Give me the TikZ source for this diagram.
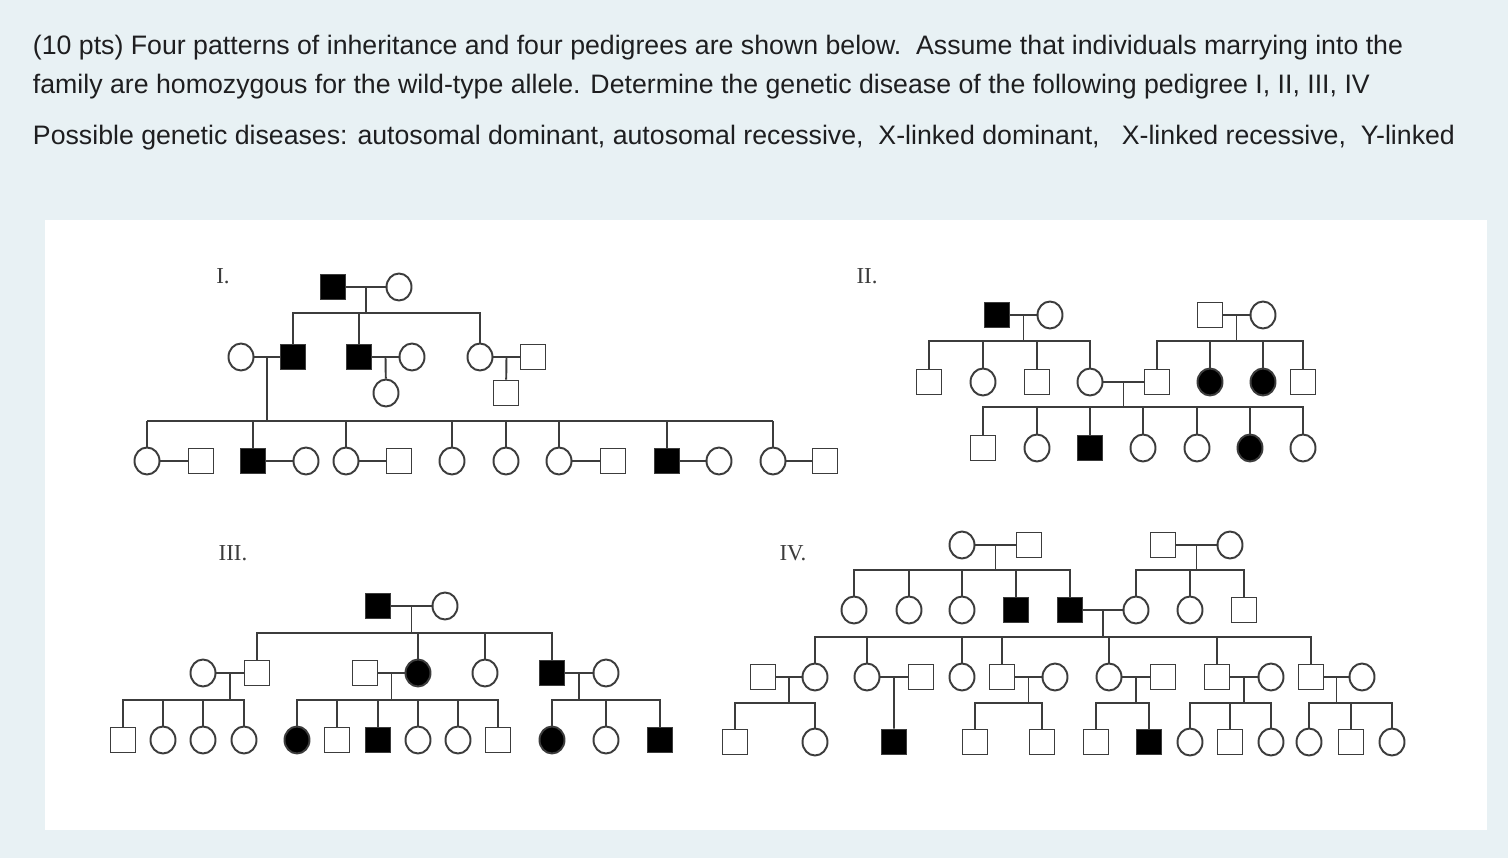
\documentclass[tikz,border=0pt]{standalone}
\usepackage{fontspec}
\setmainfont{Liberation Sans}
\newfontfamily\numfont{Liberation Serif}
\usetikzlibrary{calc,shapes.geometric}
\definecolor{bg}{HTML}{E8F1F4}
\definecolor{lc}{HTML}{3C3C3C}
\definecolor{txt}{HTML}{1E1E20}
\tikzset{
  ind/.style={draw=lc, line width=1.1pt, inner sep=0pt},
  male/.style={ind, rectangle, minimum size=0.5cm},
  female/.style={ind, ellipse, minimum width=0.5cm, minimum height=0.54cm},
  aff/.style={fill=black},
  head/.style={anchor=west, inner sep=0pt, text=txt, font=\fontsize{15.2}{18}\selectfont},
  roman/.style={text=lc, font=\numfont\fontsize{13}{15}\selectfont}
}
% couple: line and midpoint
\newcommand\couple[3]{\draw (#1) -- (#2); \coordinate (#3) at ($(#1)!.5!(#2)$);}
% children hanging from a sibship line
\newcommand\kids[3]{%
  \draw (#1) -- (#1 |- #2);
  \foreach \k in {#3} \draw (#1 |- #2) -- (\k |- #2) -- (\k);}
\begin{document}
\begin{tikzpicture}[x=0.02cm, y=-0.02cm, line width=1.1pt, draw=lc]
\fill[bg] (0,0) rectangle (1508,858);
\useasboundingbox (0,0) rectangle (1508,858);
\fill[white] (45,220) rectangle (1487,830);

% question text
\node[head] (q1) at (32,48) {(10 pts) Four patterns of inheritance and four pedigrees are shown below.\ \ Assume that individuals marrying into the};
\node[head] (q2) at (32,87) {family are homozygous for the wild-type allele. Determine the genetic disease of the following pedigree I, II, III, IV};
\node[head] (q3) at (32,138) {Possible genetic diseases: autosomal dominant, autosomal recessive,\ \ X-linked dominant,\ \ \ X-linked recessive,\ \ Y-linked};

% pedigree I
\node[roman] (tI) at (223,276) {I.};
\node[male,aff] (a1) at (333,287) {};
\node[female] (a2) at (399,287) {};
\node[female] (b1) at (241,357) {};
\node[male,aff] (b2) at (293,357) {};
\node[male,aff] (b3) at (359,357) {};
\node[female] (b4) at (412,357) {};
\node[female] (b5) at (480,357) {};
\node[male] (b6) at (533,357) {};
\node[female] (b7) at (386,393) {};
\node[male] (b8) at (506,393) {};
\node[female] (c1) at (147,461) {};
\node[male] (c2) at (201,461) {};
\node[male,aff] (c3) at (253,461) {};
\node[female] (c4) at (306,461) {};
\node[female] (c5) at (346,461) {};
\node[male] (c6) at (399,461) {};
\node[female] (c7) at (452,461) {};
\node[female] (c8) at (506,461) {};
\node[female] (c9) at (559,461) {};
\node[male] (c10) at (613,461) {};
\node[male,aff] (c11) at (667,461) {};
\node[female] (c12) at (719,461) {};
\node[female] (c13) at (773,461) {};
\node[male] (c14) at (825,461) {};
\coordinate (sIa) at (0,313);
\coordinate (sIb) at (0,421);
\couple{a1}{a2}{ma}
\kids{ma}{sIa}{b2,b3,b5}
\couple{b1}{b2}{mb1}
\draw (mb1) -- (mb1 |- sIb);
\foreach \k in {c1,c3,c5,c7,c8,c9,c11,c13} \draw (c1 |- sIb) -- (c13 |- sIb) (\k |- sIb) -- (\k);
\couple{b3}{b4}{mb2}
\draw (mb2) -- (b7);
\couple{b5}{b6}{mb3}
\draw (mb3) -- (b8);
\foreach \p/\q in {c1/c2,c3/c4,c5/c6,c9/c10,c11/c12,c13/c14} \draw (\p) -- (\q);

% pedigree II
\node[roman] (tII) at (867,276) {II.};
\node[male,aff] (d1) at (997,315) {};
\node[female] (d2) at (1050,315) {};
\node[male] (d3) at (1210,315) {};
\node[female] (d4) at (1263,315) {};
\node[male] (e1) at (929,382) {};
\node[female] (e2) at (983,382) {};
\node[male] (e3) at (1037,382) {};
\node[female] (e4) at (1090,382) {};
\node[male] (e5) at (1157,382) {};
\node[female,aff] (e6) at (1210,382) {};
\node[female,aff] (e7) at (1263,382) {};
\node[male] (e8) at (1303,382) {};
\node[male] (f1) at (983,448) {};
\node[female] (f2) at (1037,448) {};
\node[male,aff] (f3) at (1090,448) {};
\node[female] (f4) at (1143,448) {};
\node[female] (f5) at (1197,448) {};
\node[female,aff] (f6) at (1250,448) {};
\node[female] (f7) at (1303,448) {};
\coordinate (sIIa) at (0,341);
\coordinate (sIIb) at (0,407);
\couple{d1}{d2}{md1}
\kids{md1}{sIIa}{e1,e2,e3,e4}
\couple{d3}{d4}{md2}
\kids{md2}{sIIa}{e5,e6,e7,e8}
\couple{e4}{e5}{me}
\kids{me}{sIIb}{f1,f2,f3,f4,f5,f6,f7}

% pedigree III
\node[roman] (tIII) at (233,553) {III.};
\node[male,aff] (g1) at (378,606) {};
\node[female] (g2) at (445,606) {};
\node[female] (h1) at (203,673) {};
\node[male] (h2) at (257,673) {};
\node[male] (h3) at (365,673) {};
\node[female,aff] (h4) at (418,673) {};
\node[female] (h5) at (485,673) {};
\node[male,aff] (h6) at (552,673) {};
\node[female] (h7) at (606,673) {};
\node[male] (i1) at (123,740) {};
\node[female] (i2) at (163,740) {};
\node[female] (i3) at (203,740) {};
\node[female] (i4) at (244,740) {};
\node[female,aff] (i5) at (297,740) {};
\node[male] (i6) at (337,740) {};
\node[male,aff] (i7) at (378,740) {};
\node[female] (i8) at (418,740) {};
\node[female] (i9) at (458,740) {};
\node[male] (i10) at (498,740) {};
\node[female,aff] (i11) at (552,740) {};
\node[female] (i12) at (606,740) {};
\node[male,aff] (i13) at (660,740) {};
\coordinate (sIIIa) at (0,633);
\coordinate (sIIIb) at (0,700);
\couple{g1}{g2}{mg}
\kids{mg}{sIIIa}{h2,h4,h5,h6}
\couple{h1}{h2}{mh1}
\kids{mh1}{sIIIb}{i1,i2,i3,i4}
\couple{h3}{h4}{mh2}
\kids{mh2}{sIIIb}{i5,i6,i7,i8,i9,i10}
\couple{h6}{h7}{mh3}
\kids{mh3}{sIIIb}{i11,i12,i13}

% pedigree IV
\node[roman] (tIV) at (793,553) {IV.};
\node[female] (j1) at (962,545) {};
\node[male] (j2) at (1029,545) {};
\node[male] (j3) at (1163,545) {};
\node[female] (j4) at (1230,545) {};
\node[female] (k1) at (854,610) {};
\node[female] (k2) at (909,610) {};
\node[female] (k3) at (962,610) {};
\node[male,aff] (k4) at (1016,610) {};
\node[male,aff] (k5) at (1070,610) {};
\node[female] (k6) at (1136,610) {};
\node[female] (k7) at (1190,610) {};
\node[male] (k8) at (1244,610) {};
\node[male] (l1) at (763,677) {};
\node[female] (l2) at (815,677) {};
\node[female] (l3) at (867,677) {};
\node[male] (l4) at (921,677) {};
\node[female] (l5) at (962,677) {};
\node[male] (l6) at (1002,677) {};
\node[female] (l7) at (1055,677) {};
\node[female] (l8) at (1109,677) {};
\node[male] (l9) at (1163,677) {};
\node[male] (l10) at (1217,677) {};
\node[female] (l11) at (1271,677) {};
\node[male] (l12) at (1311,677) {};
\node[female] (l13) at (1362,677) {};
\node[male] (n1) at (735,742) {};
\node[female] (n2) at (815,742) {};
\node[male,aff] (n3) at (894,742) {};
\node[male] (n4) at (975,742) {};
\node[male] (n5) at (1042,742) {};
\node[male] (n6) at (1096,742) {};
\node[male,aff] (n7) at (1149,742) {};
\node[female] (n8) at (1190,742) {};
\node[male] (n9) at (1230,742) {};
\node[female] (n10) at (1271,742) {};
\node[female] (n11) at (1309,742) {};
\node[male] (n12) at (1351,742) {};
\node[female] (n13) at (1392,742) {};
\coordinate (sIVa) at (0,570);
\coordinate (sIVb) at (0,637);
\coordinate (sIVc) at (0,703);
\couple{j1}{j2}{mj1}
\kids{mj1}{sIVa}{k1,k2,k3,k4,k5}
\couple{j3}{j4}{mj2}
\kids{mj2}{sIVa}{k6,k7,k8}
\couple{k5}{k6}{mk}
\kids{mk}{sIVb}{l2,l3,l5,l6,l8,l10,l12}
\couple{l1}{l2}{ml1}
\kids{ml1}{sIVc}{n1,n2}
\couple{l3}{l4}{ml2}
\draw (ml2) -- (n3);
\couple{l6}{l7}{ml3}
\kids{ml3}{sIVc}{n4,n5}
\couple{l8}{l9}{ml4}
\kids{ml4}{sIVc}{n6,n7}
\couple{l10}{l11}{ml5}
\kids{ml5}{sIVc}{n8,n9,n10}
\couple{l12}{l13}{ml6}
\kids{ml6}{sIVc}{n11,n12,n13}
\end{tikzpicture}
\end{document}
